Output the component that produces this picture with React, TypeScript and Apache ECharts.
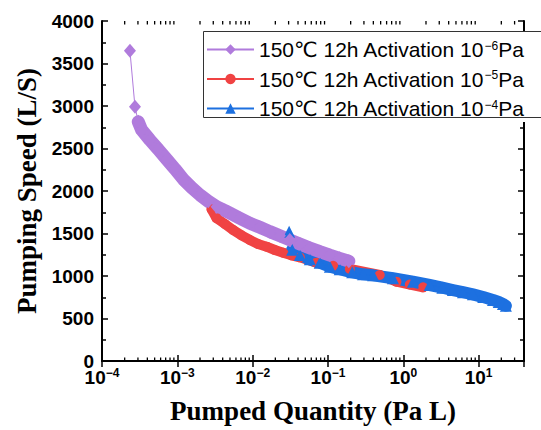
import React, { useEffect, useRef } from "react";
import * as echarts from "echarts";

// ---- data (Pumped Quantity [Pa L], Pumping Speed [L/S]) ----
const purpleData: [number, number][] = [
  [2.35e-4, 3650], [2.74e-4, 2990], [3.03e-4, 2815], [3.36e-4, 2718],
  [4.33e-4, 2600], [5.58e-4, 2490], [7.21e-4, 2373], [9.29e-4, 2260],
  [1.2e-3, 2138], [1.55e-3, 2040], [2.0e-3, 1953], [2.57e-3, 1880],
  [3.32e-3, 1815], [4.28e-3, 1770], [5.5e-3, 1720], [6.76e-3, 1679],
  [9.18e-3, 1620], [1.245e-2, 1573], [1.69e-2, 1522], [2.3e-2, 1474],
  [3.11e-2, 1425], [4.23e-2, 1376], [5.74e-2, 1330], [7.78e-2, 1286],
  [0.1057, 1245], [0.143, 1208], [0.189, 1175],
];

const redData: [number, number][] = [
  [2.85e-3, 1785], [3.32e-3, 1680], [4.28e-3, 1612], [5.5e-3, 1541],
  [7.1e-3, 1479], [9.18e-3, 1424], [1.18e-2, 1376], [1.53e-2, 1345],
  [1.97e-2, 1306], [2.54e-2, 1274], [3.28e-2, 1243], [4.23e-2, 1220],
  [7.03e-2, 1157], [0.117, 1120], [0.195, 1082], [0.486, 1012],
  [0.81, 933], [1.22, 900], [1.83, 867],
];

const blueData: [number, number][] = [
  [0.0305, 1520], [0.0335, 1310], [0.0423, 1247], [0.0574, 1196],
  [0.0778, 1157], [0.106, 1110], [0.143, 1079], [0.21, 1043],
  [0.292, 1020], [0.397, 1008], [0.73, 973], [1.34, 933],
  [2.24, 894], [3.3, 862], [4.55, 835], [6.2, 810], [8.4, 784],
  [11.5, 752], [15.5, 718], [18.5, 695], [21, 672], [23, 650],
];

const seriesNames = [
  "150℃ 12h Activation 10⁻⁶Pa",
  "150℃ 12h Activation 10⁻⁵Pa",
  "150℃ 12h Activation 10⁻⁴Pa",
];
const legendExponents = ["−6", "−5", "−4"];
const seriesColors = ["#b07bdc", "#f04343", "#1d70e0"];

const xMin = 1e-4;
const xMax = 40;
const yMin = 0;
const yMax = 4000;
const yInterval = 500;

const minorMultipliers = [2, 3, 4, 5, 6, 7, 8, 9];
const minorDecades = [1e-4, 1e-3, 1e-2, 1e-1, 1];
const extraMinor = [20, 30];

const xMinorTicks: number[] = [];
minorDecades.forEach((d) => minorMultipliers.forEach((m) => xMinorTicks.push(m * d)));
extraMinor.forEach((v) => xMinorTicks.push(v));

const sansFont = "'Liberation Sans', Arial, 'DejaVu Sans', sans-serif";
const serifFont = "'Liberation Serif', 'Times New Roman', serif";

function buildOption(): any {
  const axisLineStyle = { color: "#000", width: 2 };
  const tickStyle = { color: "#000", width: 1.5 };

  const supRich = {
    sup: {
      fontSize: 12,
      lineHeight: 12,
      verticalAlign: "top",
      fontFamily: sansFont,
      fontWeight: "bold",
      color: "#000",
    },
  };

  const dataSets = [purpleData, redData, blueData];
  const symbols = ["diamond", "circle", "triangle"];
  const symbolSizes: any[] = [[12, 14], 10, 12];
  const bandWidths = [13, 10, 12];
  const bandStart = [2, 0, 1];

  // draw order: red, blue, purple (purple on top)
  const order = [1, 2, 0];
  const series: any[] = [];
  order.forEach((i) => {
    const d = dataSets[i];
    series.push({
      type: "line",
      name: seriesNames[i] + " band",
      data: d.slice(bandStart[i]),
      showSymbol: false,
      symbol: "none",
      silent: true,
      lineStyle: { color: seriesColors[i], width: bandWidths[i], cap: "round", join: "round" },
      xAxisIndex: 0,
      yAxisIndex: 0,
    });
    series.push({
      type: "line",
      name: seriesNames[i],
      data: d,
      symbol: symbols[i],
      symbolSize: symbolSizes[i],
      showSymbol: true,
      showAllSymbol: true,
      color: seriesColors[i],
      itemStyle: { color: seriesColors[i] },
      lineStyle: { color: seriesColors[i], width: 1 },
      xAxisIndex: 0,
      yAxisIndex: 0,
    });
  });

  series.push({
    type: "custom",
    name: "minorTicks",
    silent: true,
    xAxisIndex: 0,
    yAxisIndex: 0,
    data: xMinorTicks.map((v) => [v, yMin]),
    renderItem: (_params: any, api: any) => {
      const v = api.value(0);
      const b = api.coord([v, yMin]);
      const t = api.coord([v, yMax]);
      return {
        type: "group",
        children: [
          { type: "line", shape: { x1: b[0], y1: b[1], x2: b[0], y2: b[1] - 3.5 }, style: { stroke: "#000", lineWidth: 1.3 } },
          { type: "line", shape: { x1: t[0], y1: t[1], x2: t[0], y2: t[1] + 3.5 }, style: { stroke: "#000", lineWidth: 1.3 } },
        ],
      };
    },
  });

  const xLabelFormatter = (v: number) => {
    const e = Math.round(Math.log10(v));
    const s = e < 0 ? "−" + Math.abs(e) : String(e);
    return "10{sup|" + s + "}";
  };

  return {
    animation: false,
    backgroundColor: "#fff",
    grid: { left: 102, top: 21, right: 17, bottom: 69, containLabel: false },
    graphic: [
      {
        type: "rect",
        z: 100,
        silent: true,
        shape: { x: 203.5, y: 31.5, width: 345, height: 86 },
        style: { fill: "none", stroke: "#333", lineWidth: 1 },
      },
    ],
    legend: {
      data: seriesNames,
      orient: "vertical",
      left: 203,
      top: 31,
      itemWidth: 47,
      itemHeight: 13,
      itemGap: 8.5,
      padding: [8, 10, 3, 3],
      borderWidth: 0,
      backgroundColor: "#fff",
      textStyle: {
        fontFamily: sansFont,
        fontSize: 21,
        lineHeight: 20,
        color: "#000",
        rich: {
          sup: { fontSize: 12, lineHeight: 12, verticalAlign: "top", fontFamily: sansFont, color: "#000" },
          t: { fontSize: 21, lineHeight: 20, fontFamily: sansFont, color: "#000" },
        },
      },
      formatter: (name: string) => {
        const i = seriesNames.indexOf(name);
        return "{t|150℃ 12h Activation 10}{sup|" + legendExponents[i] + "}{t|Pa}";
      },
    },
    xAxis: [
      {
        type: "log",
        logBase: 10,
        min: xMin,
        max: xMax,
        position: "bottom",
        axisLine: { show: true, lineStyle: axisLineStyle },
        axisTick: { show: true, inside: true, length: 6, lineStyle: tickStyle },
        splitLine: { show: false },
        axisLabel: {
          show: true,
          margin: 6,
          showMaxLabel: false,
          formatter: xLabelFormatter,
          fontFamily: sansFont,
          fontWeight: "bold",
          fontSize: 19,
          lineHeight: 20,
          color: "#000",
          rich: supRich,
        },
        name: "Pumped Quantity (Pa L)",
        nameLocation: "middle",
        nameGap: 36,
        nameTextStyle: { fontFamily: serifFont, fontWeight: "bold", fontSize: 27, color: "#000" },
      },
      {
        type: "log",
        logBase: 10,
        min: xMin,
        max: xMax,
        position: "top",
        axisLine: { show: true, lineStyle: axisLineStyle },
        axisTick: { show: true, inside: true, length: 6, lineStyle: tickStyle },
        splitLine: { show: false },
        axisLabel: { show: false },
      },
    ],
    yAxis: [
      {
        type: "value",
        min: yMin,
        max: yMax,
        interval: yInterval,
        position: "left",
        axisLine: { show: true, lineStyle: axisLineStyle },
        axisTick: { show: true, inside: true, length: 6, lineStyle: tickStyle },
        minorTick: { show: true, splitNumber: 2, length: 4, lineStyle: tickStyle },
        splitLine: { show: false },
        axisLabel: {
          margin: 8,
          formatter: (v: number) => String(v),
          fontFamily: sansFont,
          fontWeight: "bold",
          fontSize: 19,
          color: "#000",
        },
        name: "Pumping Speed (L/S)",
        nameLocation: "middle",
        nameGap: 57,
        nameTextStyle: { fontFamily: serifFont, fontWeight: "bold", fontSize: 27, color: "#000" },
      },
      {
        type: "value",
        min: yMin,
        max: yMax,
        interval: yInterval,
        position: "right",
        axisLine: { show: true, lineStyle: axisLineStyle },
        axisTick: { show: true, inside: true, length: 6, lineStyle: tickStyle },
        minorTick: { show: true, splitNumber: 2, length: 4, lineStyle: tickStyle },
        splitLine: { show: false },
        axisLabel: { show: false },
      },
    ],
    series,
  };
}

export default function App() {
  const ref = useRef<HTMLDivElement>(null);
  useEffect(() => {
    if (!ref.current) return;
    const chart = echarts.init(ref.current, null, { renderer: "svg" });
    chart.setOption(buildOption());
    return () => chart.dispose();
  }, []);
  return (
    <div
      ref={ref}
      style={{ position: "absolute", left: 0, top: 0, width: 541, height: 430 }}
    />
  );
}
